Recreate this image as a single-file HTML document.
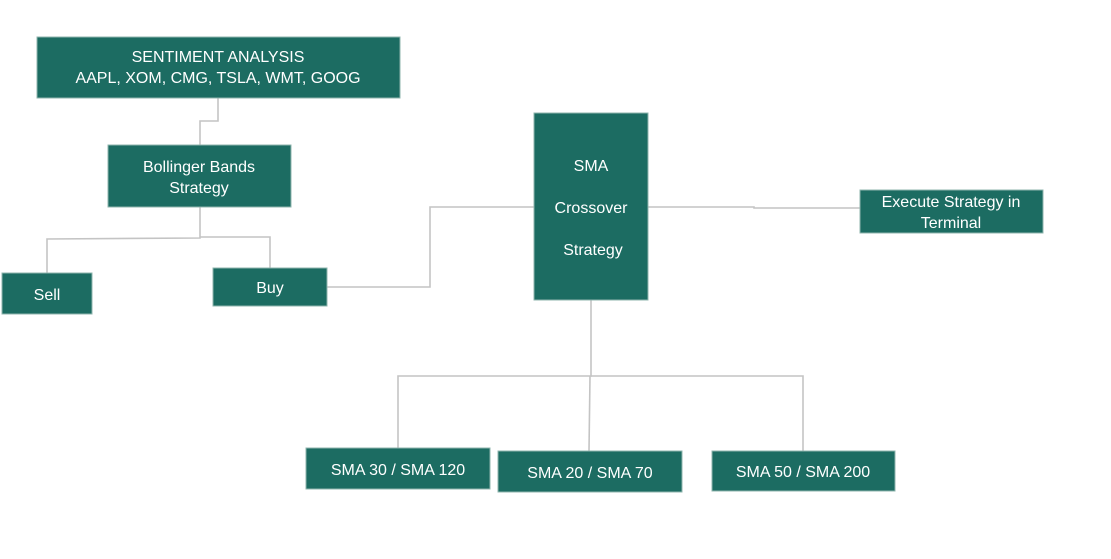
<!DOCTYPE html>
<html><head><meta charset="utf-8"><style>
body{margin:0;width:1111px;height:554px;background:#fff;overflow:hidden;font-family:"Liberation Sans",sans-serif}
</style></head><body>
<svg width="1111" height="554" xmlns="http://www.w3.org/2000/svg">
<g fill="none" stroke="#c4c4c4" stroke-width="1.6">
<polyline points="218,98 218,121 200,121 200,145"/>
<polyline points="200,207 200,238 47,239 47,273"/>
<polyline points="200,237 270,237 270,268"/>
<polyline points="327,287 430,287 430,207 534,207"/>
<polyline points="648,207 754,207 754,208 860,208"/>
<polyline points="591,300 591,376 398,376 398,448"/>
<polyline points="591,376 803,376 803,451"/>
<polyline points="590,376 589,451"/>
</g>
<g fill="#1c6c62" stroke="#8fb5ae" stroke-width="1">
<rect x="37" y="37" width="363" height="61"/>
<rect x="108" y="145" width="183" height="62"/>
<rect x="2" y="273" width="90" height="41"/>
<rect x="213" y="268" width="114" height="38"/>
<rect x="534" y="113" width="114" height="187"/>
<rect x="860" y="190" width="183" height="43"/>
<rect x="306" y="448" width="184" height="41"/>
<rect x="498" y="451" width="184" height="41"/>
<rect x="712" y="451" width="183" height="40"/>
</g>
<g fill="#fff" font-family="Liberation Sans, sans-serif" font-size="16" text-anchor="middle">
<text x="218" y="62">SENTIMENT ANALYSIS</text>
<text x="218" y="83">AAPL, XOM, CMG, TSLA, WMT, GOOG</text>
<text x="199" y="172">Bollinger Bands</text>
<text x="199" y="193">Strategy</text>
<text x="47" y="300">Sell</text>
<text x="270" y="293">Buy</text>
<text x="591" y="171">SMA</text>
<text x="591" y="213">Crossover</text>
<text x="593" y="255">Strategy</text>
<text x="951" y="207">Execute Strategy in</text>
<text x="951" y="228">Terminal</text>
<text x="398" y="475">SMA 30 / SMA 120</text>
<text x="590" y="478">SMA 20 / SMA 70</text>
<text x="803" y="477">SMA 50 / SMA 200</text>
</g>
</svg>
</body></html>
